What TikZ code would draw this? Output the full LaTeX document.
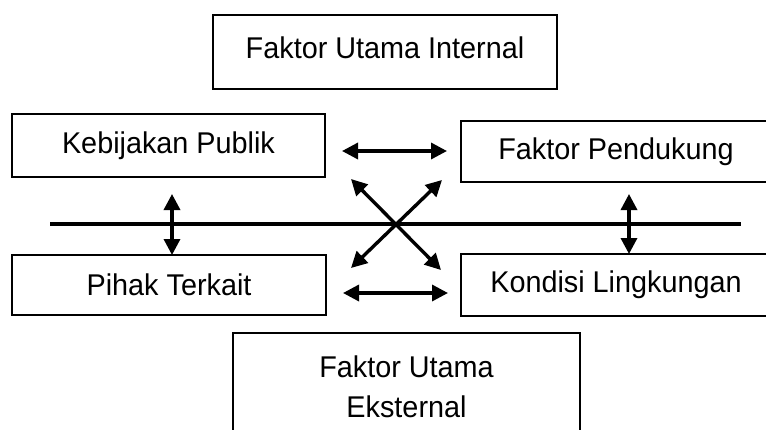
\documentclass[tikz,border=0pt]{standalone}
\usepackage{fontspec}
\setmainfont[FakeStretch=0.96]{Liberation Sans}
\usetikzlibrary{arrows.meta}
\begin{document}
\begin{tikzpicture}[x=1pt,y=-1pt,
  box/.style={draw,line width=2.4pt,rectangle,inner sep=0pt,align=center,
    font=\fontsize{30}{40}\selectfont},
  link/.style={line width=3.4pt,{Triangle[length=16pt,width=16pt]}-{Triangle[length=16pt,width=16pt]}}]
\useasboundingbox (0,0) rectangle (766,429);

% boxes
\node[box,minimum width=344pt,minimum height=74pt] (internal) at (385,52) {};
\node[font=\fontsize{30}{40}\selectfont] (internaltext) at (385,48) {Faktor Utama Internal};
\node[box,minimum width=313pt,minimum height=63pt] (publik) at (168.5,145.5) {Kebijakan Publik};
\node[box,minimum width=310pt,minimum height=61pt] (pendukung) at (616,151.5) {Faktor Pendukung};
\node[box,minimum width=314pt,minimum height=60pt] (pihak) at (169,285) {Pihak Terkait};
\node[box,minimum width=310pt,minimum height=62pt] (kondisi) at (616,285) {Kondisi Lingkungan};
\node[box,minimum width=347pt,minimum height=108pt] (eksternal) at (406.5,387) {Faktor Utama\\Eksternal};

% dividing line
\coordinate (lineL) at (50,224);
\coordinate (lineR) at (741,224);
\draw[line width=4pt] (lineL) -- (lineR);

% arrow end points
\coordinate (a1) at (342,151);
\coordinate (a2) at (447,151);
\coordinate (b1) at (343,293);
\coordinate (b2) at (448,293);
\coordinate (c1) at (172,194);
\coordinate (c2) at (172,255);
\coordinate (d1) at (629,194);
\coordinate (d2) at (629,254);
\coordinate (e1) at (351,179);
\coordinate (e2) at (441,270);
\coordinate (f1) at (442,180);
\coordinate (f2) at (351,268);

\draw[link] (a1) -- (a2);
\draw[link] (b1) -- (b2);
\draw[link] (c1) -- (c2);
\draw[link] (d1) -- (d2);
\draw[link] (e1) -- (e2);
\draw[link] (f1) -- (f2);
\end{tikzpicture}
\end{document}
